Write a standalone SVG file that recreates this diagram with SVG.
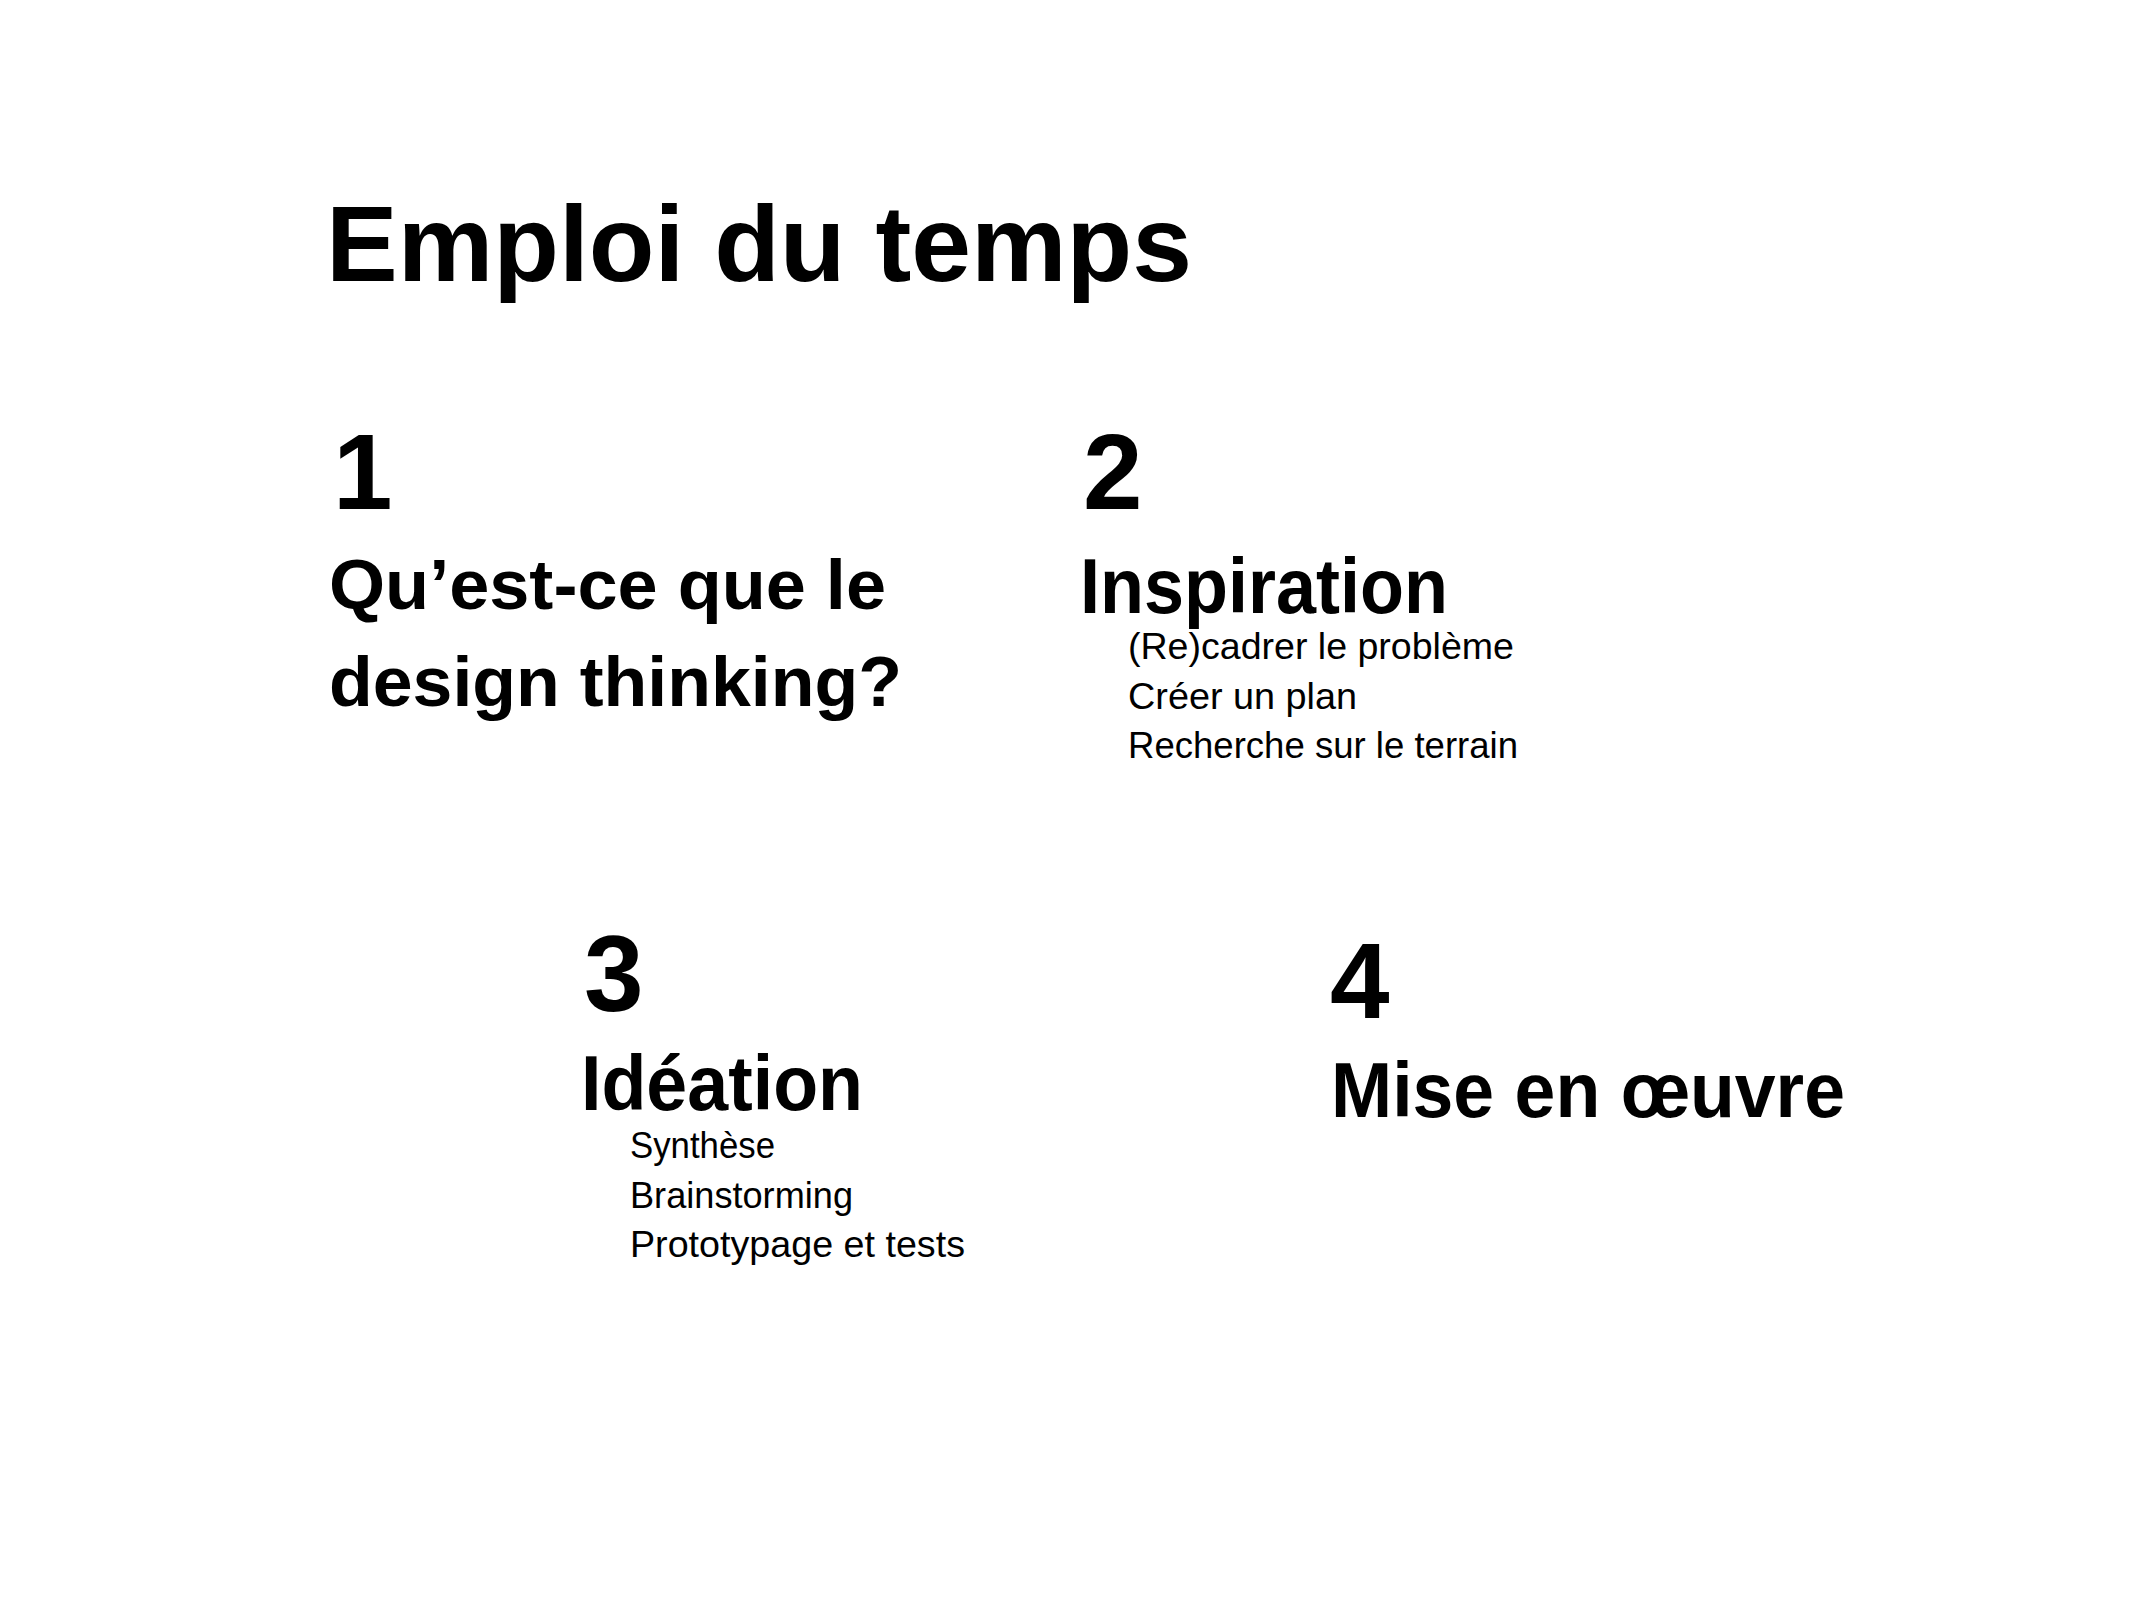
<svg xmlns="http://www.w3.org/2000/svg" width="2133" height="1600" viewBox="0 0 2133 1600">
<style>
text{font-family:"Liberation Sans",Arial,sans-serif;fill:#000}
.title{font-size:107px;font-weight:bold}
.num{font-size:107px;font-weight:bold}
.head{font-size:77px;font-weight:bold}
.head1{font-size:71px;font-weight:bold}
.item{font-size:37px}
</style>
<rect width="2133" height="1600" fill="#fff"/>
<g id="title">
<text class="title" x="326" y="281" textLength="866" lengthAdjust="spacingAndGlyphs">Emploi du temps</text>
</g>
<g id="step1">
<text class="num" x="333" y="509">1</text>
<text class="head1" x="329" y="609" textLength="557" lengthAdjust="spacingAndGlyphs">Qu’est-ce que le</text>
<text class="head1" x="329" y="706" textLength="573" lengthAdjust="spacingAndGlyphs">design thinking?</text>
</g>
<g id="step2">
<text class="num" x="1083" y="509">2</text>
<text class="head" x="1080" y="613" textLength="368" lengthAdjust="spacingAndGlyphs">Inspiration</text>
<text class="item" x="1128" y="659" textLength="386" lengthAdjust="spacingAndGlyphs">(Re)cadrer le problème</text>
<text class="item" x="1128" y="709" textLength="229" lengthAdjust="spacingAndGlyphs">Créer un plan</text>
<text class="item" x="1128" y="758" textLength="390" lengthAdjust="spacingAndGlyphs">Recherche sur le terrain</text>
</g>
<g id="step3">
<text class="num" x="584" y="1011">3</text>
<text class="head" x="581" y="1110" textLength="282" lengthAdjust="spacingAndGlyphs">Idéation</text>
<text class="item" x="630" y="1158" textLength="145" lengthAdjust="spacingAndGlyphs">Synthèse</text>
<text class="item" x="630" y="1208" textLength="223" lengthAdjust="spacingAndGlyphs">Brainstorming</text>
<text class="item" x="630" y="1257" textLength="335" lengthAdjust="spacingAndGlyphs">Prototypage et tests</text>
</g>
<g id="step4">
<text class="num" x="1330" y="1018">4</text>
<text class="head" x="1331" y="1117" textLength="514" lengthAdjust="spacingAndGlyphs">Mise en œuvre</text>
</g>
<g id="connectors"/>
</svg>
